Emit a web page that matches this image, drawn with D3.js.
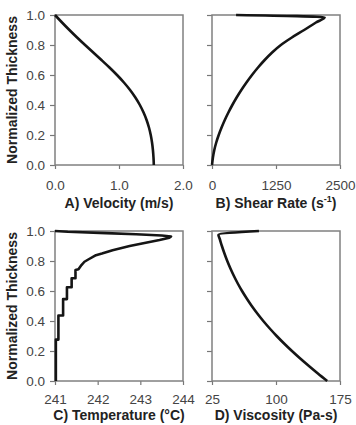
<!DOCTYPE html>
<html>
<head>
<meta charset="utf-8">
<script src="https://cdn.jsdelivr.net/npm/d3@7"></script>
<style>
  html, body { margin: 0; padding: 0; background: #fff; }
  svg { display: block; font-family: "Liberation Sans", Arial, sans-serif; }
</style>
</head>
<body>
<svg id="chart" width="356" height="425"></svg>
<script>
// thickness is normalized, 0 = bottom, 1 = top
const velThick = [0, 0.05, 0.1, 0.15, 0.2, 0.25, 0.3, 0.35, 0.4, 0.45, 0.5, 0.55, 0.6, 0.65, 0.7, 0.75, 0.8, 0.85, 0.9, 0.95, 1.0];
const velocity = [1.544, 1.539, 1.53, 1.516, 1.496, 1.468, 1.431, 1.384, 1.326, 1.256, 1.173, 1.077, 0.969, 0.851, 0.726, 0.598, 0.47, 0.345, 0.225, 0.11, 0];

const shearThick = [0, 0.05, 0.1, 0.15, 0.2, 0.25, 0.3, 0.35, 0.4, 0.45, 0.5, 0.55, 0.6, 0.65, 0.7, 0.75, 0.8, 0.85, 0.9, 0.95, 0.985, 1.0];
const shearRate = [0, 18, 45, 83, 131, 187, 250, 320, 397, 481, 573, 673, 781, 899, 1029, 1174, 1345, 1560, 1800, 2030, 2200, 470];

const tempThick = [0, 0.276, 0.276, 0.437, 0.437, 0.546, 0.546, 0.625, 0.625, 0.685, 0.685, 0.74, 0.745, 0.773, 0.795, 0.81, 0.839, 0.85, 0.872, 0.9, 0.917, 0.94, 0.955, 0.963, 0.97, 0.978, 0.986, 0.995, 1.0];
const temperature = [241.02, 241.02, 241.08, 241.08, 241.19, 241.19, 241.28, 241.28, 241.39, 241.39, 241.48, 241.48, 241.55, 241.62, 241.69, 241.78, 241.96, 242.1, 242.35, 242.75, 243.04, 243.45, 243.68, 243.72, 243.5, 242.9, 242.2, 241.3, 241.0];

const viscThick = [0, 0.05, 0.1, 0.15, 0.2, 0.25, 0.3, 0.35, 0.4, 0.45, 0.5, 0.55, 0.6, 0.65, 0.7, 0.75, 0.8, 0.85, 0.9, 0.95, 0.975, 1.0];
const viscosity = [160, 149.1, 138.6, 128.4, 118.7, 109.5, 100.8, 92.7, 85.1, 78.1, 71.6, 65.7, 60.2, 55.2, 50.7, 46.6, 42.9, 39.6, 36.6, 33.9, 32.5, 80];

const yTicks = [0, 0.2, 0.4, 0.6, 0.8, 1.0];
const velTicks = [0, 1, 2];
const shearTicks = [0, 1250, 2500];
const tempTicks = [241, 242, 243, 244];
const viscTicks = [25, 100, 175];

const panels = [
  { key: "A", col: 0, row: 0, xs: velocity, ys: velThick, domain: [0, 2], ticks: velTicks, fmt: d3.format(".1f"), curve: d3.curveMonotoneY, title: ["A) Velocity (m/s)"] },
  { key: "B", col: 1, row: 0, xs: shearRate, ys: shearThick, domain: [0, 2500], ticks: shearTicks, fmt: d3.format("d"), curve: d3.curveMonotoneY, title: ["B) Shear Rate (s", "-1", ")"] },
  { key: "C", col: 0, row: 1, xs: temperature, ys: tempThick, domain: [241, 244], ticks: tempTicks, fmt: d3.format("d"), curve: d3.curveLinear, title: ["C) Temperature (°C)"] },
  { key: "D", col: 1, row: 1, xs: viscosity, ys: viscThick, domain: [25, 175], ticks: viscTicks, fmt: d3.format("d"), curve: d3.curveMonotoneY, title: ["D) Viscosity (Pa-s)"] },
];

const colX = [55, 212];
const rowY = [15, 231];
const tickPad = [11, 9];
const titleOff = [43, 39];
const pw = 128;
const ph = 150;

const svg = d3.select("#chart");

panels.forEach((p) => {
  const g = svg.append("g").attr("transform", `translate(${colX[p.col]},${rowY[p.row]})`);

  const x = d3.scaleLinear().domain(p.domain).range([0, pw]);
  const y = d3.scaleLinear().domain([0, 1]).range([ph, 0]);

  const gx = g.append("g").attr("transform", `translate(0,${ph})`)
    .call(d3.axisBottom(x).tickValues(p.ticks).tickFormat(p.fmt).tickSize(4).tickSizeOuter(0).tickPadding(tickPad[p.row]));
  gx.select(".domain").remove();
  gx.selectAll("line").attr("stroke", "#777").attr("stroke-width", 1.2);
  gx.selectAll("text").attr("fill", "#444").style("font-size", "13.5px");

  const gy = g.append("g")
    .call(d3.axisLeft(y).tickValues(yTicks).tickFormat(p.col === 0 ? d3.format(".1f") : () => "").tickSize(5).tickSizeOuter(0).tickPadding(5));
  gy.select(".domain").remove();
  gy.selectAll("line").attr("stroke", "#777").attr("stroke-width", 1.2);
  gy.selectAll("text").attr("fill", "#444").style("font-size", "13.5px");

  g.append("rect")
    .attr("x", 0).attr("y", 0).attr("width", pw).attr("height", ph)
    .attr("fill", "none").attr("stroke", "#808080").attr("stroke-width", 1.5);

  const pts = p.xs.map((v, i) => [v, p.ys[i]]);
  const line = d3.line().x((d) => x(d[0])).y((d) => y(d[1])).curve(p.curve);
  g.append("path")
    .attr("d", line(pts))
    .attr("fill", "none")
    .attr("stroke", "#151515")
    .attr("stroke-width", 2.6)
    .attr("stroke-linejoin", "round");

  const title = g.append("text")
    .attr("x", pw / 2)
    .attr("y", ph + titleOff[p.row])
    .attr("text-anchor", "middle")
    .attr("font-weight", "bold")
    .attr("fill", "#222")
    .style("font-size", "14px");
  title.append("tspan").text(p.title[0]);
  if (p.title.length > 1) {
    title.append("tspan").attr("dy", -6).style("font-size", "9px").text(p.title[1]);
    title.append("tspan").attr("dy", 6).text(p.title[2]);
  }

  if (p.col === 0) {
    g.append("text")
      .attr("transform", `translate(-38,${ph / 2}) rotate(-90)`)
      .attr("text-anchor", "middle")
      .attr("font-weight", "bold")
      .attr("fill", "#222")
      .style("font-size", "14px")
      .text("Normalized Thickness");
  }
});
</script>
</body>
</html>
